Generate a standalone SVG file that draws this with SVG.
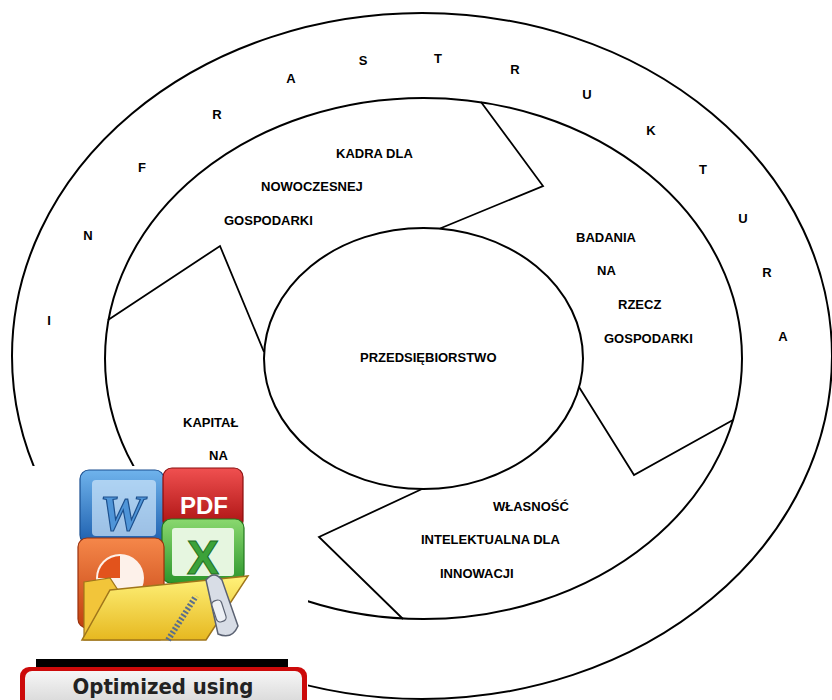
<svg xmlns="http://www.w3.org/2000/svg" width="832" height="700" viewBox="0 0 832 700">
  <style>
    .ring { fill: none; stroke: #000; stroke-width: 2; }
    .edge { fill: none; stroke: #000; stroke-width: 1.8; stroke-linejoin: miter; }
    .lbl { font-family: "Liberation Sans", Arial, sans-serif; font-size: 13px; font-weight: bold; fill: #000; }
    .ltr { font-family: "Liberation Sans", Arial, sans-serif; font-size: 13px; font-weight: bold; fill: #000; text-anchor: middle; }
  </style>
  <defs>
    <linearGradient id="gWord" x1="0" y1="0" x2="0" y2="1">
      <stop offset="0" stop-color="#6fb3ec"/>
      <stop offset="1" stop-color="#1d5fae"/>
    </linearGradient>
    <linearGradient id="gPdf" x1="0" y1="0" x2="0" y2="1">
      <stop offset="0" stop-color="#f05050"/>
      <stop offset="1" stop-color="#a80f0f"/>
    </linearGradient>
    <linearGradient id="gXls" x1="0" y1="0" x2="0" y2="1">
      <stop offset="0" stop-color="#8ad86f"/>
      <stop offset="1" stop-color="#2c962c"/>
    </linearGradient>
    <linearGradient id="gPpt" x1="0" y1="0" x2="0" y2="1">
      <stop offset="0" stop-color="#f5874a"/>
      <stop offset="1" stop-color="#c2400f"/>
    </linearGradient>
    <linearGradient id="gFolder" x1="0" y1="0" x2="0" y2="1">
      <stop offset="0" stop-color="#fff27a"/>
      <stop offset="1" stop-color="#e6b820"/>
    </linearGradient>
    <linearGradient id="gBtn" x1="0" y1="0" x2="0" y2="1">
      <stop offset="0" stop-color="#f6f6f6"/>
      <stop offset="1" stop-color="#d4d4d4"/>
    </linearGradient>
  </defs>

  <rect width="832" height="700" fill="#fff"/>

  <!-- outer ring: infrastructure -->
  <g id="infrastruktura">
    <ellipse class="ring" cx="422" cy="356" rx="410" ry="343"/>
    <text class="ltr" x="49" y="325">I</text>
    <text class="ltr" x="88" y="240">N</text>
    <text class="ltr" x="142" y="172">F</text>
    <text class="ltr" x="217" y="119">R</text>
    <text class="ltr" x="291" y="83">A</text>
    <text class="ltr" x="363" y="65">S</text>
    <text class="ltr" x="438" y="63">T</text>
    <text class="ltr" x="515" y="74">R</text>
    <text class="ltr" x="587" y="99">U</text>
    <text class="ltr" x="651" y="135">K</text>
    <text class="ltr" x="703" y="174">T</text>
    <text class="ltr" x="743" y="223">U</text>
    <text class="ltr" x="767" y="277">R</text>
    <text class="ltr" x="783" y="341">A</text>
  </g>

  <!-- middle ring holding the four segments -->
  <g id="pierscien">
    <ellipse class="ring" cx="423.5" cy="358.5" rx="318.5" ry="260.5"/>
  </g>

  <g id="kadra">
    <text class="lbl" x="336" y="158">KADRA DLA</text>
    <text class="lbl" x="261" y="191">NOWOCZESNEJ</text>
    <text class="lbl" x="224" y="225">GOSPODARKI</text>
  </g>

  <g id="badania">
    <text class="lbl" x="576" y="242">BADANIA</text>
    <text class="lbl" x="597" y="275">NA</text>
    <text class="lbl" x="618" y="309">RZECZ</text>
    <text class="lbl" x="604" y="343">GOSPODARKI</text>
  </g>

  <g id="wlasnosc">
    <text class="lbl" x="493" y="511">WŁASNOŚĆ</text>
    <text class="lbl" x="421" y="544">INTELEKTUALNA DLA</text>
    <text class="lbl" x="440" y="578">INNOWACJI</text>
  </g>

  <g id="kapital">
    <text class="lbl" x="183" y="427">KAPITAŁ</text>
    <text class="lbl" x="209" y="460">NA</text>
  </g>

  <!-- chevron boundaries between the segments -->
  <g id="connectors">
    <polyline class="edge" points="481,102 543,186 440,228.5"/>
    <polyline class="edge" points="108,320 220,246 264,352"/>
    <polyline class="edge" points="579,387 634,475 733,420"/>
    <polyline class="edge" points="422,489 319,537 403,619"/>
  </g>

  <!-- centre -->
  <g id="przedsiebiorstwo">
    <ellipse class="ring" cx="423.5" cy="358.5" rx="159.5" ry="130.5"/>
    <text class="lbl" x="360" y="362">PRZEDSIĘBIORSTWO</text>
  </g>

  <!-- badge in the lower left corner -->
  <g id="badge">
    <rect x="14" y="466" width="294" height="234" fill="#fff"/>
    <!-- Word tile -->
    <rect x="80" y="470" width="84" height="74" rx="9" fill="url(#gWord)" stroke="#1a4f90" stroke-width="1.2"/>
    <rect x="92" y="480" width="64" height="56" rx="4" fill="#cfe6fa" opacity="0.7"/>
    <text x="122" y="530" text-anchor="middle" font-family="Liberation Serif, serif" font-size="50" font-style="italic" font-weight="bold" fill="#4f95d8" stroke="#1c4f8c" stroke-width="1.2">W</text>
    <!-- PDF tile -->
    <rect x="163" y="468" width="80" height="62" rx="9" fill="url(#gPdf)" stroke="#8a0c0c" stroke-width="1.2"/>
    <text x="204" y="514" text-anchor="middle" font-family="Liberation Sans, Arial, sans-serif" font-size="24" font-weight="bold" fill="#fff">PDF</text>
    <!-- Excel tile -->
    <rect x="162" y="519" width="82" height="64" rx="9" fill="url(#gXls)" stroke="#22771f" stroke-width="1.2"/>
    <rect x="172" y="528" width="62" height="48" rx="3" fill="#e6f6e0"/>
    <text x="203" y="574" text-anchor="middle" font-family="Liberation Sans, Arial, sans-serif" font-size="48" font-weight="bold" fill="#3ca23a" stroke="#1e6e1e" stroke-width="1">X</text>
    <!-- PowerPoint tile -->
    <rect x="78" y="538" width="86" height="90" rx="9" fill="url(#gPpt)" stroke="#9a300c" stroke-width="1.2"/>
    <circle cx="120" cy="578" r="24" fill="#fdf1ea"/>
    <path d="M120,578 L120,556 A22,22 0 0 0 98,578 Z" fill="#e2531c"/>
    <!-- folder -->
    <path d="M84,582 L110,578 L118,590 L160,586 L160,640 L84,640 Z" fill="#f2c53a" stroke="#a0761a" stroke-width="1.2"/>
    <path d="M110,590 L248,576 L206,640 L82,640 Z" fill="url(#gFolder)" stroke="#a0761a" stroke-width="1.5"/>
    <!-- zipper -->
    <path d="M168,640 L196,596" stroke="#5a6e8c" stroke-width="6" stroke-dasharray="2,2" fill="none"/>
    <path d="M206,580 Q214,570 222,580 L238,626 Q232,640 218,634 Z" fill="#d8dde6" stroke="#5b6272" stroke-width="1.5"/>
    <rect x="214" y="600" width="10" height="22" rx="4" fill="#eef1f6" stroke="#5b6272" stroke-width="1.2" transform="rotate(-18 219 611)"/>
    <!-- caption -->
    <rect x="36" y="659" width="252" height="8" fill="#000"/>
    <rect x="20" y="667" width="287" height="42" rx="9" fill="#cc0a0a"/>
    <rect x="25" y="671" width="277" height="38" rx="7" fill="url(#gBtn)"/>
    <text x="163" y="694" text-anchor="middle" font-family="DejaVu Sans, Verdana, sans-serif" font-size="22" font-weight="bold" fill="#222" textLength="181" lengthAdjust="spacingAndGlyphs">Optimized using</text>
  </g>
</svg>
